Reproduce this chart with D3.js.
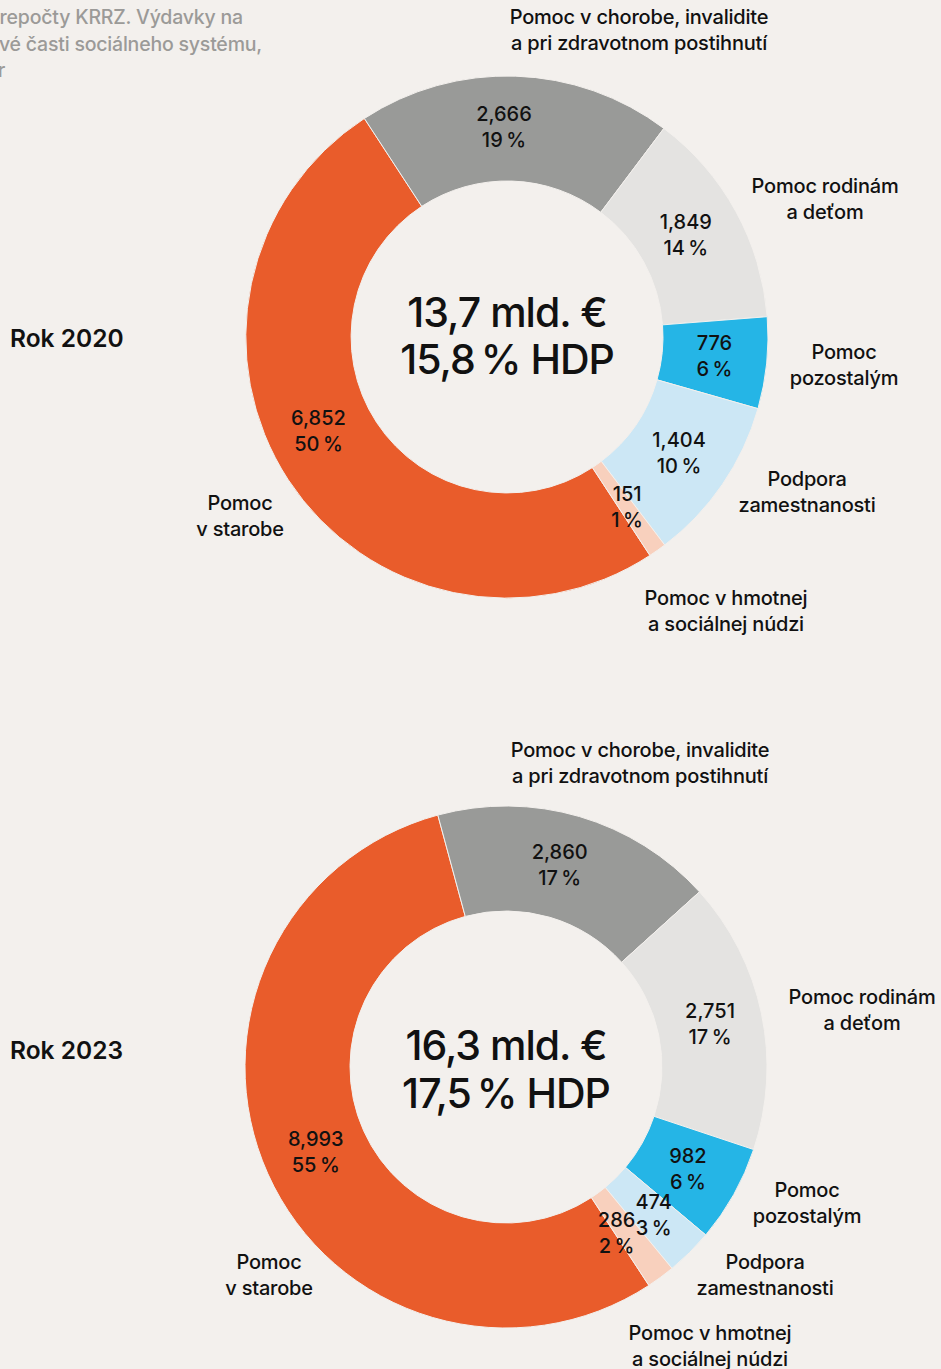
<!DOCTYPE html>
<html>
<head>
<meta charset="utf-8">
<script src="https://cdn.jsdelivr.net/npm/d3@7"></script>
<style>
  html, body { margin: 0; padding: 0; background: #f3f0ed; }
  svg { display: block; font-family: Inter, "Noto Sans", sans-serif; }
</style>
</head>
<body>
<div id="chart-container"></div>
<script>
const width = 941;
const height = 1369;

// Data
const categories = [
  "Pomoc v starobe",
  "Pomoc v chorobe, invalidite a pri zdravotnom postihnutí",
  "Pomoc rodinám a deťom",
  "Pomoc pozostalým",
  "Podpora zamestnanosti",
  "Pomoc v hmotnej a sociálnej núdzi"
];
const labelLines = [
  ["Pomoc", "v starobe"],
  ["Pomoc v chorobe, invalidite", "a pri zdravotnom postihnutí"],
  ["Pomoc rodinám", "a deťom"],
  ["Pomoc", "pozostalým"],
  ["Podpora", "zamestnanosti"],
  ["Pomoc v hmotnej", "a sociálnej núdzi"]
];
const values2020 = [6852, 2666, 1849, 776, 1404, 151];
const shares2020 = [50, 19, 14, 6, 10, 1];
const values2023 = [8993, 2860, 2751, 982, 474, 286];
const shares2023 = [55, 17, 17, 6, 3, 2];
const years = ["Rok 2020", "Rok 2023"];
const totals = ["13,7 mld. €", "16,3 mld. €"];
const gdpShares = ["15,8\u202f% HDP", "17,5\u202f% HDP"];
const noteLines = [
  "Zdroj: Eurostat, prepočty KRRZ. Výdavky na",
  "jednotlivé časti sociálneho systému,",
  "v mld. eur"
];

const colors = ["#e95c2b", "#999a98", "#e4e3e1", "#25b5e6", "#cce7f5", "#f8d0bd"];

// Layout
const outerR = 261;
const innerR = 156;
const startAngle = 146.8 * Math.PI / 180;
const charts = [
  { cx: 507, cy: 337, titleY: 347, values: values2020, shares: shares2020,
    nudge: [[-14, -20], [-10, -2], [-4, -2], [0, -2], [0, -2], [0, 0]],
    labelXY: [[-267, 179], [132, -307], [318, -138], [337, 28], [300, 155], [219, 274]] },
  { cx: 506, cy: 1067, titleY: 1059, values: values2023, shares: shares2023,
    nudge: [[0, 0], [-5, -2], [0, 0], [0, 0], [1, 0], [-13, -2]],
    labelXY: [[-237, 208], [134, -304], [356, -57], [301, 136], [259, 208], [204, 279]] }
];

const svg = d3.select("div#chart-container").append("svg")
  .attr("width", width)
  .attr("height", height)
  .attr("viewBox", "0 0 " + width + " " + height);

svg.append("rect").attr("width", width).attr("height", height).attr("fill", "#f3f0ed");

// Note at the top (cut off at the left edge)
const noteEnds = [243, 262, 5];
svg.append("g").selectAll("text")
  .data(noteLines)
  .enter()
  .append("text")
  .attr("x", (d, i) => noteEnds[i])
  .attr("y", (d, i) => 24 + i * 26.5)
  .attr("text-anchor", "end")
  .attr("font-size", 19.5)
  .attr("font-weight", 500)
  .attr("letter-spacing", -0.2)
  .attr("fill", "#9b9a98")
  .text(d => d);

const pie = d3.pie()
  .sort(null)
  .value(d => d)
  .startAngle(startAngle)
  .endAngle(startAngle + 2 * Math.PI);

const arc = d3.arc().innerRadius(innerR).outerRadius(outerR);
const mid = (innerR + outerR) / 2;
const labelArc = d3.arc().innerRadius(mid).outerRadius(mid);

charts.forEach(function (c, ci) {
  const g = svg.append("g").attr("transform", "translate(" + c.cx + "," + c.cy + ")");
  const arcs = pie(c.values);

  g.append("g")
    .selectAll("path")
    .data(arcs)
    .enter()
    .append("path")
    .attr("d", arc)
    .attr("fill", (d, i) => colors[i])
    .attr("stroke", "#f3f0ed")
    .attr("stroke-width", 1);

  // value + share labels inside the ring
  const vl = g.append("g")
    .selectAll("text")
    .data(arcs)
    .enter()
    .append("text")
    .attr("transform", function (d, i) {
      const p = labelArc.centroid(d);
      return "translate(" + (p[0] + c.nudge[i][0]) + "," + (p[1] + c.nudge[i][1]) + ")";
    })
    .attr("text-anchor", "middle")
    .attr("font-size", 20)
    .attr("font-weight", 500)
    .attr("letter-spacing", -0.2)
    .attr("fill", "#111");
  vl.append("tspan").attr("x", 0).attr("y", -6).text(d => d3.format(",")(d.data));
  vl.append("tspan").attr("x", 0).attr("y", 20).text((d, i) => c.shares[i] + "\u202f%");

  // category labels outside
  const cl = g.append("g")
    .selectAll("text")
    .data(labelLines)
    .enter()
    .append("text")
    .attr("transform", (d, i) => "translate(" + c.labelXY[i] + ")")
    .attr("text-anchor", "middle")
    .attr("font-size", 20)
    .attr("font-weight", 500)
    .attr("letter-spacing", -0.2)
    .attr("fill", "#111");
  cl.append("tspan").attr("x", 0).attr("y", -6).text(d => d[0]);
  cl.append("tspan").attr("x", 0).attr("y", 20).text(d => d[1]);

  // centre text
  const ct = g.append("text")
    .attr("text-anchor", "middle")
    .attr("font-size", 41)
    .attr("font-weight", 500)
    .attr("letter-spacing", -1)
    .attr("fill", "#111");
  ct.append("tspan").attr("x", 0).attr("y", -10 + ci * 3).text(totals[ci]);
  ct.append("tspan").attr("x", 0).attr("y", 37 + ci * 4).text(gdpShares[ci]);

  // year title
  svg.append("text")
    .attr("x", 10)
    .attr("y", c.titleY)
    .attr("font-size", 24.5)
    .attr("font-weight", 600)
    .attr("fill", "#111")
    .text(years[ci]);
});
</script>
</body>
</html>
